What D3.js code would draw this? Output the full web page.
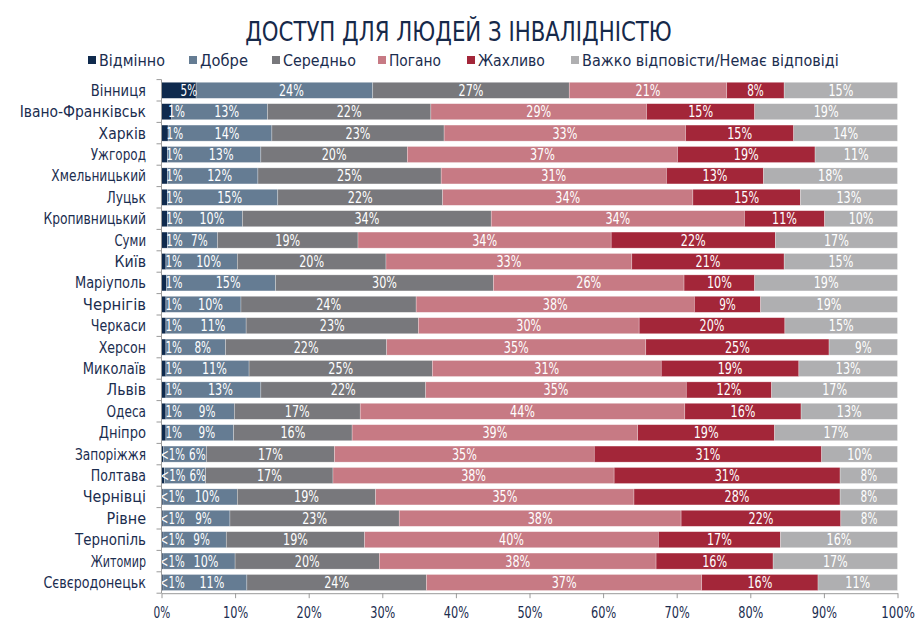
<!DOCTYPE html>
<html><head><meta charset="utf-8">
<script src="https://cdn.jsdelivr.net/npm/d3@7"></script>
<style>body{margin:0;background:#fff} svg{display:block}</style>
</head><body><svg id="c" width="918" height="625"></svg>
<script>
const title = "ДОСТУП ДЛЯ ЛЮДЕЙ З ІНВАЛІДНІСТЮ";
const cities = ["Вінниця","Івано-Франківськ","Харків","Ужгород","Хмельницький","Луцьк","Кропивницький","Суми","Київ","Маріуполь","Чернігів","Черкаси","Херсон","Миколаїв","Львів","Одеса","Дніпро","Запоріжжя","Полтава","Чернівці","Рівне","Тернопіль","Житомир","Сєвєродонецьк"];
const seriesNames = ["Відмінно","Добре","Середньо","Погано","Жахливо","Важко відповісти/Немає відповіді"];
const excellent = [4.7,1.4,0.9,0.8,0.8,0.8,0.8,0.8,0.6,0.7,0.6,0.6,0.6,0.6,0.6,0.6,0.6,0.3,0.4,0.2,0.2,0.2,0.2,0.2];
const good      = [24.0,13.0,14.1,12.7,12.3,15.0,10.2,6.8,9.7,14.8,10.2,10.9,8.1,11.3,12.9,9.3,9.2,5.8,5.6,10.1,9.1,8.6,9.8,11.4];
const average   = [26.7,22.2,23.4,19.9,24.9,22.4,33.8,19.1,20.2,29.6,23.8,23.4,21.9,24.9,22.4,17.1,16.1,17.4,17.3,18.8,23.0,18.8,19.6,24.4];
const poor      = [21.4,29.3,32.8,36.7,30.6,34.0,34.4,34.4,33.4,25.9,37.8,30.0,35.2,31.1,35.4,44.1,38.8,35.3,38.2,35.1,38.3,39.9,37.6,37.4];
const terrible  = [7.8,14.7,14.7,18.7,13.2,14.6,10.9,22.3,20.7,9.6,9.0,19.8,24.9,18.7,11.6,15.8,18.6,30.9,30.7,28.0,21.7,16.6,15.9,15.8];
const hardToSay = [15.4,19.4,14.1,11.2,18.2,13.2,9.9,16.6,15.4,19.4,18.6,15.3,9.3,13.4,17.1,13.1,16.7,10.3,7.8,7.8,7.7,15.9,16.9,10.8];
const xTicks = [0,10,20,30,40,50,60,70,80,90,100];
const colors = ["#0f2a4d","#657c93","#78787c","#c77a84","#a32639","#afafb1"];

const seriesArrays = [excellent, good, average, poor, terrible, hardToSay];
const keys = seriesNames;
const table = cities.map((c,i)=>{const o={city:c}; keys.forEach((k,j)=>o[k]=seriesArrays[j][i]); return o;});

const svg = d3.select("#c");
const font = "'DejaVu Sans', Verdana, sans-serif";
const textCol = "#1b2d4f";

// horizontally squeeze a text (positioned at its own origin) to a target width
function squeeze(node, target){
  const n = node.getComputedTextLength();
  if (n > 0) {
    const prev = node.getAttribute("transform") || "";
    node.setAttribute("transform", prev + ` scale(${(target/n).toFixed(4)},1)`);
  }
}

const x = d3.scaleLinear().domain([0,100]).range([161.5,897.5]);
const y = d3.scaleBand().domain(cities).range([79.6,593.2]).paddingInner(0.25).paddingOuter(0.125);

// title
const tt = svg.append("text").attr("transform","translate(458.5,41)").attr("text-anchor","middle")
  .attr("font-family",font).attr("font-size",27).attr("fill","#16294a").text(title);
squeeze(tt.node(), 427);

// legend
const legX = [88,189,272,378,467,571];
const legW = [66,48,73,52,67,257];
const leg = svg.append("g");
seriesNames.forEach((n,i)=>{
  leg.append("rect").attr("x",legX[i]).attr("y",56).attr("width",8).attr("height",8).attr("fill",colors[i]);
  const t = leg.append("text").attr("transform",`translate(${legX[i]+11},65.5)`).attr("font-family",font).attr("font-size",15)
    .attr("fill",textCol).text(n);
  squeeze(t.node(), legW[i]);
});

const stack = d3.stack().keys(keys)(table);

const gBars = svg.append("g");
stack.forEach((layer,li)=>{
  gBars.selectAll(null).data(layer).enter().append("rect")
    .attr("x",d=>x(d[0])).attr("y",d=>y(d.data.city))
    .attr("width",d=>x(d[1])-x(d[0])).attr("height",y.bandwidth())
    .attr("fill",colors[li]).attr("stroke","#ffffff").attr("stroke-opacity",0.45).attr("stroke-width",0.6);
});

// labels
const fmt = v => v < 0.5 ? "<1%" : Math.round(v) + "%";
const gLab = svg.append("g").attr("font-family",font).attr("font-size",15).attr("fill","#ffffff").attr("text-anchor","middle");
const approxW = s => s.length*8.3;
cities.forEach((c,i)=>{
  let prevRight = -Infinity;
  stack.forEach((layer,li)=>{
    const d = layer[i];
    const v = d[1]-d[0];
    const t = fmt(v);
    const w = approxW(t);
    let cx = (x(d[0])+x(d[1]))/2;
    if (li===0) cx += 10;
    else if (li===1) { cx += 7; if (cx - w/2 < prevRight + 4) cx = prevRight + 4 + w/2; }
    prevRight = cx + w/2;
    const lt = gLab.append("text").attr("transform",`translate(${cx},${y(c)+y.bandwidth()/2})`).attr("dy","0.36em").text(t);
    squeeze(lt.node(), w);
  });
});

// left axis line and boundary ticks
const axisCol = "#9a9a9a";
svg.append("line").attr("x1",x(0)).attr("x2",x(0)).attr("y1",y.range()[0]).attr("y2",y.range()[1]).attr("stroke",axisCol);
const step = y.step();
const bounds = cities.map(c=>y(c)-step*y.paddingInner()/2).concat([y.range()[1]]);
svg.selectAll(null).data(bounds).enter().append("line")
  .attr("x1",x(0)-5).attr("x2",x(0)).attr("y1",d=>d).attr("y2",d=>d).attr("stroke",axisCol);

// category labels
svg.append("g").selectAll("text").data(cities).enter().append("text")
  .attr("transform",d=>`translate(146,${y(d)+y.bandwidth()/2})`).attr("dy","0.36em").attr("text-anchor","end")
  .attr("font-family",font).attr("font-size",15).attr("fill",textCol).text(d=>d)
  .each(function(d){ squeeze(this, d.length*7.9); });

// bottom axis
const gx = svg.append("g").attr("transform",`translate(0,${y.range()[1]})`)
  .call(d3.axisBottom(x).tickValues(xTicks).tickFormat(d=>d+"%").tickSize(5).tickPadding(9).tickSizeOuter(0));
gx.select(".domain").attr("stroke",axisCol);
gx.selectAll(".tick line").attr("stroke",axisCol);
gx.selectAll(".tick text").attr("font-family",font).attr("font-size",15).attr("fill",textCol)
  .each(function(d){ squeeze(this, String(d+"%").length*8.4); });
</script></body></html>
